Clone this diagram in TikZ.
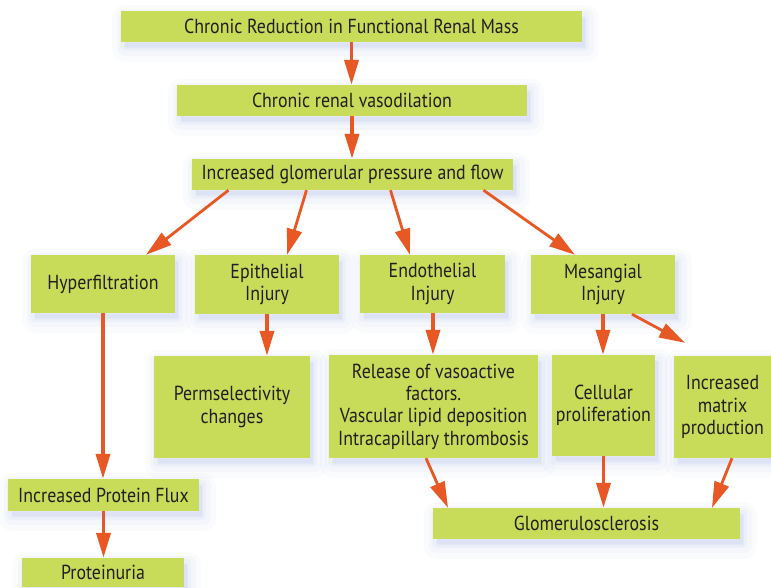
\documentclass[tikz,border=0pt]{standalone}
\usepackage{fontspec}
\setmainfont{PT Sans}[FakeStretch=0.88]
\usetikzlibrary{arrows.meta,calc}
\definecolor{boxgreen}{RGB}{200,220,90}
\definecolor{arrowred}{RGB}{232,88,36}
\definecolor{txt}{RGB}{35,31,32}
\definecolor{shadowblue}{RGB}{150,170,220}
\tikzset{
  box/.style={fill=boxgreen, draw=none, inner sep=0pt, align=center, text=txt,
    font=\fontsize{20.3}{22.3}\selectfont,
    preaction={draw=shadowblue, fill=shadowblue, line join=round, line width=26pt, opacity=0.05, transform canvas={xshift=4pt,yshift=-7pt}},
    preaction={draw=shadowblue, fill=shadowblue, line join=round, line width=16pt, opacity=0.06, transform canvas={xshift=4pt,yshift=-6pt}},
    preaction={draw=shadowblue, fill=shadowblue, line join=round, line width=8pt, opacity=0.08, transform canvas={xshift=3pt,yshift=-5pt}}},
  arr/.style={draw=arrowred, line width=3.6pt, -{Triangle[length=25pt,width=14pt]}},
  darr/.style={draw=arrowred, line width=2.8pt, -{Triangle[length=26pt,width=15pt]}},
}
\begin{document}
\begin{tikzpicture}[x=1pt,y=-1pt]
\useasboundingbox (0,0) rectangle (771,587);
\clip (0,0) rectangle (771,587);
\node[box, minimum width=461pt, minimum height=31pt] (top) at (351.5,26.5) {Chronic Reduction in Functional Renal Mass};
\node[box, minimum width=350pt, minimum height=31pt] (vaso) at (352,100.5) {Chronic renal vasodilation};
\node[box, minimum width=321pt, minimum height=31pt] (glom) at (352.5,174.5) {Increased glomerular pressure and flow};
\node[box, minimum width=144pt, minimum height=58pt] (hyper) at (103,284) {Hyperfiltration};
\node[box, minimum width=144pt, minimum height=59pt] (epith) at (267,284.5) {Epithelial\\Injury};
\node[box, minimum width=145pt, minimum height=58pt] (endo) at (432.5,284) {Endothelial\\Injury};
\node[box, minimum width=144pt, minimum height=59pt] (mes) at (603,284.5) {Mesangial\\Injury};
\node[box, minimum width=156pt, minimum height=102pt] (perm) at (232,407) {Permselectivity\\changes};
\node[box, minimum width=209pt, minimum height=103pt] (rel) at (433.5,406.5) {Release of vasoactive\\factors.\\Vascular lipid deposition\\Intracapillary thrombosis};
\node[box, minimum width=103pt, minimum height=101pt] (cell) at (603.5,405.5) {Cellular\\proliferation};
\node[box, minimum width=97pt, minimum height=102pt] (matrix) at (722.5,407) {Increased\\matrix\\production};
\node[box, minimum width=307pt, minimum height=31pt] (gsc) at (586.5,523.5) {Glomerulosclerosis};
\node[box, minimum width=191pt, minimum height=32pt] (flux) at (103.5,495) {Increased Protein Flux};
\node[box, minimum width=162pt, minimum height=29pt] (prot) at (103,572.5) {Proteinuria};
% arrows
\draw[arr] (top.south) -- (top.south |- vaso.north);
\draw[arr] (vaso.south) -- (vaso.south |- glom.north);
\draw[darr] ([xshift=-124pt]glom.south) -- ([xshift=43pt]hyper.north);
\draw[darr] ([xshift=-46pt]glom.south) -- ([xshift=20pt]epith.north);
\draw[darr] ([xshift=38pt]glom.south) -- ([xshift=-22.5pt]endo.north);
\draw[darr] ([xshift=131pt]glom.south) -- ([xshift=-28pt]mes.north);
\draw[arr] (hyper.south) -- (hyper.south |- flux.north);
\draw[arr] (flux.south) -- (flux.south |- prot.north);
\draw[arr] (epith.south) -- (epith.south |- perm.north);
\draw[arr] ([xshift=0.5pt]endo.south) -- ([xshift=0.5pt]endo.south |- rel.north);
\draw[arr] (mes.south) -- (mes.south |- cell.north);
\coordinate (mxend) at ([xshift=-37.5pt,yshift=13pt]matrix.north);
\draw[darr] ([xshift=29pt]mes.south) -- (mxend);
\draw[darr] ([xshift=-7.5pt]rel.south) -- ([xshift=-138.5pt]gsc.north);
\draw[arr] (cell.south) -- (cell.south |- gsc.north);
\draw[darr] ([xshift=9.5pt]matrix.south) -- ([xshift=125.5pt]gsc.north);
\end{tikzpicture}
\end{document}
